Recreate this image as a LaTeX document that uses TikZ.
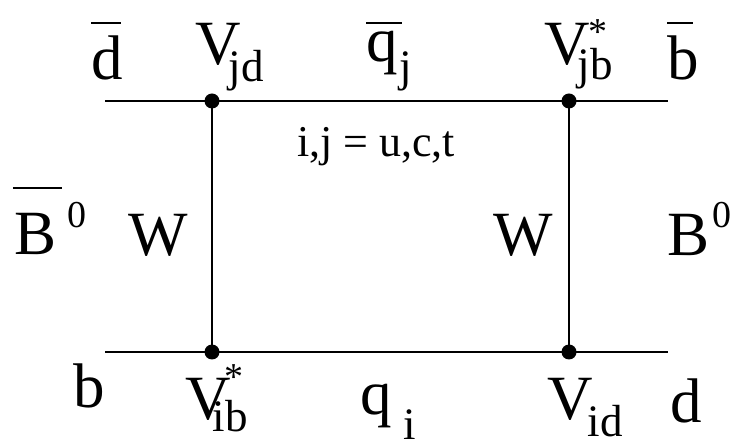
\documentclass[tikz,border=0pt]{standalone}
\usepackage{fontspec}
\setmainfont{Liberation Serif}
\newcommand\bigsz{\fontsize{63}{63}\selectfont}
\newcommand\subsz{\fontsize{45}{45}\selectfont}
\newcommand\supsz{\fontsize{38}{38}\selectfont}
\newcommand\midsz{\fontsize{44}{44}\selectfont}
% \ovl{kern}{raise}{width}{text}: bar over text
\newcommand\ovl[4]{\rlap{\kern#1\raisebox{#2}{\rule{#3}{2.5pt}}}#4}
\newcommand\subx[2]{\raisebox{#1}{\subsz #2}}
\newcommand\starx[2]{\rlap{\kern#1\raisebox{#2}{\supsz *}}}
\begin{document}
\begin{tikzpicture}[x=1pt,y=-1pt,
  lbl/.style={anchor=base west, inner sep=0pt, outer sep=0pt, font=\bigsz},
  dot/.style={circle, fill=black, inner sep=0pt, minimum size=15pt},
  prop/.style={line width=2pt}]
\useasboundingbox (0,0) rectangle (734,443);
% end points and vertices
\coordinate (tl) at (105,101);
\coordinate (tr) at (668,101);
\coordinate (bl) at (105,352);
\coordinate (br) at (668,352);
\node[dot] (v1) at (212,101) {};
\node[dot] (v2) at (569,101) {};
\node[dot] (v3) at (212,352) {};
\node[dot] (v4) at (569,352) {};
\draw[prop] (tl) -- (tr);
\draw[prop] (bl) -- (br);
\draw[prop] (v1.center) -- (v3.center);
\draw[prop] (v2.center) -- (v4.center);
% top labels
\node[lbl] (dbar) at (91,80) {\ovl{0pt}{55.5pt}{30pt}{d}};
\node[lbl] (vjd) at (195,65) {V\kern-12pt\subx{-17pt}{jd}};
\node[lbl] (qbar) at (366,62) {\ovl{0pt}{37.5pt}{36pt}{q}\kern2pt\subx{-20pt}{j}};
\node[lbl] (vjb) at (544,65) {V\starx{-1pt}{20pt}\kern-12pt\subx{-15pt}{jb}};
\node[lbl] (bbar) at (667,80) {\ovl{0pt}{55.5pt}{26pt}{b}};
\node[lbl] (ijtext) at (297,157) {\midsz i,j = u,c,t};
% middle labels
\node[lbl] (bbarzero) at (15,255) {\ovl{-2pt}{65.5pt}{49pt}{B}\kern10pt\raisebox{27pt}{\supsz 0}};
\node[lbl] (wl) at (128,256) {W};
\node[lbl] (wr) at (493,256) {W};
\node[lbl] (bzero) at (667,256) {B\kern3pt\raisebox{28pt}{\supsz 0}};
% bottom labels
\node[lbl] (b) at (73,408) {b};
\node[lbl] (vib) at (185,420) {V\starx{-6pt}{30pt}\kern-18pt\subx{-12pt}{ib}};
\node[lbl] (qi) at (360,415) {q\kern12pt\subx{-25pt}{i}};
\node[lbl] (vid) at (547,420) {V\kern-5pt\subx{-17pt}{id}};
\node[lbl] (d) at (670,423) {d};
\end{tikzpicture}
\end{document}
